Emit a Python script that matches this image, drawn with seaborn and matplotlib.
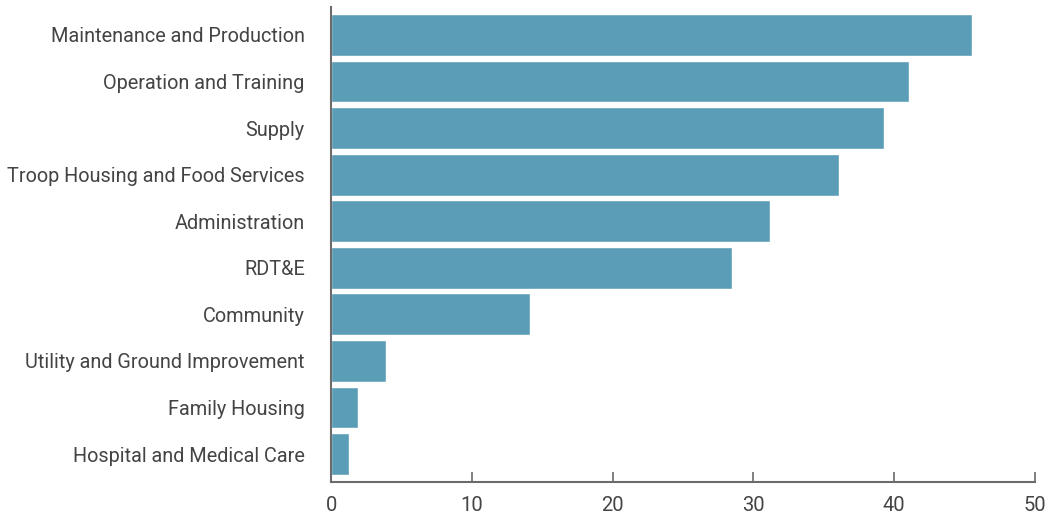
import matplotlib
matplotlib.use("Agg")
import matplotlib.pyplot as plt
import seaborn as sns
import pandas as pd

# categories and values
categories = [
    "Maintenance and Production",
    "Operation and Training",
    "Supply",
    "Troop Housing and Food Services",
    "Administration",
    "RDT&E",
    "Community",
    "Utility and Ground Improvement",
    "Family Housing",
    "Hospital and Medical Care",
]
values = [45.5, 41.05, 39.3, 36.1, 31.2, 28.5, 14.1, 3.9, 1.9, 1.3]
x_ticks = [0, 10, 20, 30, 40, 50]

df = pd.DataFrame({"Category": categories, "Value": values})

sns.set_style("white")
plt.rcParams["font.family"] = ["Roboto", "DejaVu Sans"]

fig = plt.figure(figsize=(10.48, 5.18), dpi=100)
ax = fig.add_axes([0.316, 0.0695, 0.6716, 0.917])

sns.barplot(data=df, x="Value", y="Category", color="#5b9db7",
            saturation=1, width=0.9, ax=ax)

ax.set_xlim(0, 50)
ax.set_ylim(9.6, -0.6)
ax.set_xticks(x_ticks)
ax.set_xlabel("")
ax.set_ylabel("")

for s in ["top", "right"]:
    ax.spines[s].set_visible(False)
for s in ["left", "bottom"]:
    ax.spines[s].set_color("#6b6b6b")
    ax.spines[s].set_linewidth(1.5)

ax.tick_params(axis="x", direction="in", length=7, width=1.2, color="#6b6b6b",
               labelsize=14.5, labelcolor="#444444", pad=10, bottom=True)
ax.tick_params(axis="y", length=0, labelsize=14.3, labelcolor="#444444", pad=19)

fig.savefig("out.png", dpi=100)
